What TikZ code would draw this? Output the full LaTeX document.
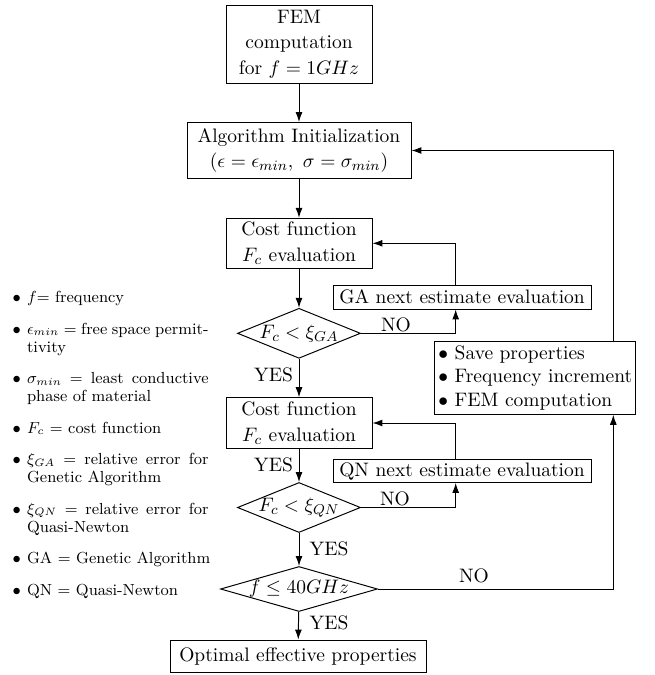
\documentclass[tikz,border=0pt]{standalone}
\usetikzlibrary{arrows.meta,shapes.geometric}
\newlength\pxu
\setlength\pxu{0.5618pt}
\newcommand\mainfs{\fontsize{10.95}{14.4}\selectfont}
\newcommand\savefs{\fontsize{10.95}{13.2}\selectfont}
\newcommand\legfs{\fontsize{9}{10}\selectfont}
\newlength\legw
\setlength\legw{102pt}
\tikzset{
  box/.style={draw, line width=0.55pt, inner sep=1pt, align=center, font=\mainfs},
  dia/.style={draw, line width=0.55pt, shape=diamond, inner sep=0pt},
  dtext/.style={inner sep=0pt, font=\mainfs},
  arr/.style={line width=0.55pt, -{Latex[length=5.6pt,width=3.9pt]}},
  lab/.style={inner sep=0pt, anchor=base, font=\mainfs},
  leg/.style={inner sep=0pt, anchor=base west, font=\legfs},
  bul/.style={inner sep=0pt, anchor=base, font=\legfs},
}
\begin{document}
\begin{tikzpicture}[x=\pxu, y=-\pxu]
\useasboundingbox (0,0) rectangle (655,675);
% flow boxes
\node[box, minimum width=146*\pxu, minimum height=78*\pxu] (fem) at (299,44) {FEM\\computation\\for $f=1GHz$};
\node[box, minimum width=224*\pxu, minimum height=56*\pxu] (init) at (299,150.5) {Algorithm Initialization\\$(\epsilon=\epsilon_{min},\ \sigma=\sigma_{min})$};
\node[box, minimum width=146*\pxu, minimum height=50*\pxu] (cost1) at (299,243.3) {Cost function\\$F_c$ evaluation};
\node[box, minimum width=258*\pxu, minimum height=24*\pxu] (ga) at (462,297) {GA next estimate evaluation};
\node[dia, minimum width=123*\pxu, minimum height=50*\pxu] (d1) at (299,333.3) {};
\node[dtext] (d1t) at (d1) {$F_c<\xi_{GA}$};
\node[box, minimum width=146*\pxu, minimum height=50.6*\pxu] (cost2) at (299,423) {Cost function\\$F_c$ evaluation};
\node[box, minimum width=258*\pxu, minimum height=22.5*\pxu] (qn) at (462,471.2) {QN next estimate evaluation};
\node[dia, minimum width=123*\pxu, minimum height=50*\pxu] (d2) at (299,507.5) {};
\node[dtext] (d2t) at (d2) {$F_c<\xi_{QN}$};
\node[dia, minimum width=157*\pxu, minimum height=45*\pxu] (d3) at (299,589) {};
\node[dtext] (d3t) at (d3) {$f\leq 40GHz$};
\node[box, minimum width=256*\pxu, minimum height=32.3*\pxu] (opt) at (298,656.2) {Optimal effective properties};
\node[box, align=left, font=\savefs, minimum width=200.7*\pxu, minimum height=72.6*\pxu] (save) at (535.3,378) {$\bullet$ Save properties\\$\bullet$ Frequency increment\\$\bullet$ FEM computation};
% helper coordinates
\coordinate (gx) at (455.7,0);
\coordinate (rx) at (613.3,0);
% connectors
\draw[arr] (fem) -- (init);
\draw[arr] (init) -- (cost1);
\draw[arr] (cost1) -- (d1);
\draw[arr] (d1.east) -| (gx |- ga.south);
\draw[arr] (gx |- ga.north) |- (cost1.east);
\draw[arr] (d1) -- (cost2);
\draw[arr] (cost2) -- (d2);
\draw[arr] (d2.east) -| (gx |- qn.south);
\draw[arr] (gx |- qn.north) |- (cost2.east);
\draw[arr] (d2) -- (d3);
\draw[arr] (d3.east) -| (rx |- save.south);
\draw[arr] (rx |- save.north) |- (init.east);
\draw[arr] (d3) -- (opt);
% labels
\node[lab] (no1) at (396,331) {NO};
\node[lab] (no2) at (395,505.5) {NO};
\node[lab] (no3) at (474,582) {NO};
\node[lab] (yes1) at (273.5,381.5) {YES};
\node[lab] (yes2) at (273.5,471) {YES};
\node[lab] (yes3) at (329,555) {YES};
\node[lab] (yes4) at (329,629) {YES};
% legend
\node[bul] (b1) at (16.7,302.5) {$\bullet$};
\node[leg] (l1) at (26.7,302.5) {$f$= frequency};
\node[bul] (b2) at (16.7,334) {$\bullet$};
\node[leg] (l2) at (26.7,334) {\makebox[\legw][s]{$\epsilon_{min}$ = free space permit-}};
\node[leg] (l3) at (26.7,352) {tivity};
\node[bul] (b3) at (16.7,383.5) {$\bullet$};
\node[leg] (l4) at (26.7,383.5) {\makebox[\legw][s]{$\sigma_{min}$ = least conductive}};
\node[leg] (l5) at (26.7,401.5) {phase of material};
\node[bul] (b4) at (16.7,433) {$\bullet$};
\node[leg] (l6) at (26.7,433) {$F_c$ = cost function};
\node[bul] (b5) at (16.7,464.5) {$\bullet$};
\node[leg] (l7) at (26.7,464.5) {\makebox[\legw][s]{$\xi_{GA}$ = relative error for}};
\node[leg] (l8) at (26.7,482.5) {Genetic Algorithm};
\node[bul] (b6) at (16.7,514) {$\bullet$};
\node[leg] (l9) at (26.7,514) {\makebox[\legw][s]{$\xi_{QN}$ = relative error for}};
\node[leg] (l10) at (26.7,532) {Quasi-Newton};
\node[bul] (b7) at (16.7,563.5) {$\bullet$};
\node[leg] (l11) at (26.7,563.5) {GA = Genetic Algorithm};
\node[bul] (b8) at (16.7,595) {$\bullet$};
\node[leg] (l12) at (26.7,595) {QN = Quasi-Newton};
\end{tikzpicture}
\end{document}
